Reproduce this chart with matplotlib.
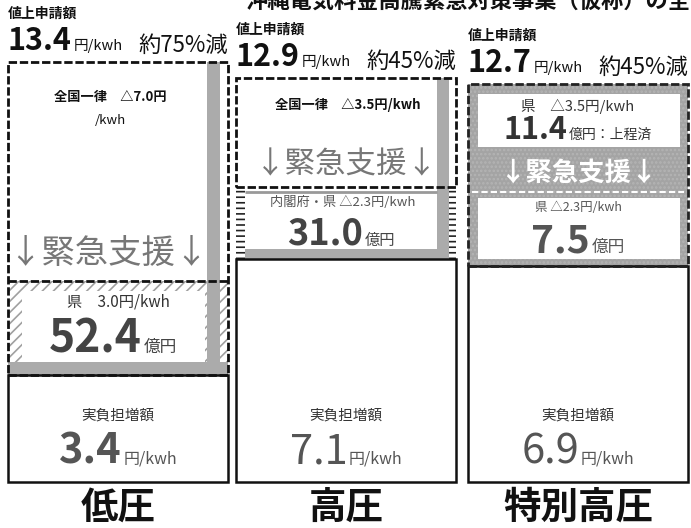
import matplotlib
matplotlib.use('Agg')
import matplotlib.pyplot as plt
from matplotlib.patches import Rectangle
from matplotlib.offsetbox import TextArea, HPacker, AnnotationBbox

# ---------------- data ----------------
title = '沖縄電気料金高騰緊急対策事業（仮称）の全体像'
categories = ['低圧', '高圧', '特別高圧']
requested = [13.4, 12.9, 12.7]          # 値上申請額 (円/kwh)
reduction_pct = [75, 45, 45]            # 約○%減
upper_cut = [7.0, 3.5, 3.5]             # upper support (円/kwh)
upper_label = ['全国一律　△7.0円', '全国一律　△3.5円/kwh', '県　△3.5円/kwh']
upper_budget = [None, None, 11.4]       # 億円
lower_cut = [3.0, 2.3, 2.3]             # lower support (円/kwh)
lower_label = ['県　3.0円/kwh', '内閣府・県 △2.3円/kwh', '県 △2.3円/kwh']
lower_budget = [52.4, 31.0, 7.5]        # 億円
actual = [3.4, 7.1, 6.9]                # 実負担増額 (円/kwh)

# ---------------- style ----------------
plt.rcParams['font.family'] = ['Noto Sans CJK JP', 'DejaVu Sans']
plt.rcParams['hatch.linewidth'] = 1.2

W_PX, H_PX = 691, 528
BASE = 482.0
S = (BASE - 62.0) / requested[0]
PX = 1.0 / S

fig = plt.figure(figsize=(W_PX / 100, H_PX / 100), dpi=100)
ax = fig.add_axes([0, 0, 1, 1])
ax.set_xlim(0, W_PX)
ax.set_ylim(-(H_PX - BASE) * PX, BASE * PX)
ax.axis('off')

xs = [118, 346, 578]
W = 220
GRAY = '#ababab'
DASH = (0, (3, 1))


def pix(p):
    return (BASE - p) * PX


def combo(x, y, parts, align=(0.5, 0.5), sep=1):
    children = [TextArea(s, textprops=dict(fontsize=fs, fontweight=fw, color=c))
                for s, fs, fw, c in parts]
    box = HPacker(children=children, align='baseline', pad=0, sep=sep)
    ab = AnnotationBbox(box, (x, y), xycoords='data', box_alignment=align,
                        frameon=False, pad=0, zorder=5)
    ax.add_artist(ab)


for i, cat in enumerate(categories):
    x = xs[i]
    left, right = x - W / 2, x + W / 2
    a, lo, up = actual[i], lower_cut[i], upper_cut[i]
    top = requested[i]

    # header
    ax.text(left, top + 48 * PX, '値上申請額', fontsize=10, fontweight='bold',
            ha='left', va='center', color='#111')
    combo(left, top + 5 * PX, [(f'{requested[i]:.1f}', 22, 'bold', '#111'),
                               ('円/kwh', 10.5, 'normal', '#111')], align=(0, 0))
    ax.text(right, top + 10 * PX, f'約{reduction_pct[i]}%減', fontsize=16,
            ha='right', va='baseline', color='#111')

    # actual burden box
    ax.bar(x, a, bottom=0, width=W, color='white', edgecolor='#111',
           linewidth=1.8, zorder=2)
    ax.text(x, pix(416), '実負担増額', fontsize=10.5, ha='center', va='center',
            color='#333')
    combo(x, pix(452), [(f'{actual[i]:.1f}', 30, 'bold' if i == 0 else 'normal', '#555'),
                        ('円/kwh', 11.5, 'normal', '#555')])
    ax.text(x, pix(507), cat, fontsize=27, fontweight='bold', ha='center',
            va='center', color='#111')

    if i == 0:
        ax.bar(x, lo, bottom=a, width=W, facecolor='white', edgecolor='#a0a0a0',
               hatch='///', linewidth=0, zorder=1)
        ax.bar(x, 13 * PX, bottom=a, width=W, color=GRAY, linewidth=0, zorder=1.5)
        ax.bar(x, up, bottom=a + lo, width=W, color='white', linewidth=0, zorder=1)
        ax.bar(right - 14.5, lo + up, bottom=a, width=13, color=GRAY,
               linewidth=0, zorder=1.5)
        ax.add_patch(Rectangle((left + 14, a + 13 * PX), 183, lo - 23 * PX,
                               facecolor='white', edgecolor='none', zorder=1.6))
        ax.bar(x, lo + up, bottom=a, width=W, fill=False, edgecolor='#111',
               linewidth=2, linestyle=DASH, zorder=3)
        ax.hlines(a + lo, left, right, colors='#111', linewidth=2,
                  linestyles=[DASH], zorder=3)
        ax.text(x - 8, a + lo + up - 35 * PX, upper_label[i], fontsize=9.5,
                fontweight='bold', ha='center', va='center', color='#111')
        ax.text(x - 8, a + lo + up - 58 * PX, '/kwh', fontsize=9.5,
                ha='center', va='center', color='#111')
        ax.text(x - 10, a + lo + 28 * PX, '↓緊急支援↓', fontsize=24,
                ha='center', va='center', color='#777')
        ax.text(x, a + lo - 21 * PX, lower_label[i], fontsize=11,
                ha='center', va='center', color='#333')
        combo(x - 5, a + lo - 58 * PX, [(f'{lower_budget[i]:.1f}', 32, 'bold', '#444'),
                                        ('億円', 12, 'normal', '#444')])
    elif i == 1:
        ax.bar(x, lo, bottom=a, width=W, color=GRAY, linewidth=0, zorder=1)
        ax.bar(x, up, bottom=a + lo, width=W, color='white', linewidth=0, zorder=1)
        ax.bar(right - 13, lo + up, bottom=a, width=12, color=GRAY,
               linewidth=0, zorder=1.5)
        ax.add_patch(Rectangle((left + 9, a + 10 * PX), right - 19 - (left + 9),
                               lo - 10 * PX, facecolor='white', edgecolor='none',
                               zorder=1.6))
        ax.hlines(a + lo - 5 * PX, left + 9, right - 19, colors='#999',
                  linewidth=2, zorder=1.8)
        ax.bar(left + 4.5, lo, bottom=a, width=9, facecolor='white',
               edgecolor='#222', hatch='---', linewidth=0, zorder=1.7)
        ax.bar(right - 3.5, lo, bottom=a, width=7, facecolor='white',
               edgecolor='#222', hatch='---', linewidth=0, zorder=1.7)
        ax.bar(x, up, bottom=a + lo, width=W, fill=False, edgecolor='#111',
               linewidth=2, linestyle=DASH, zorder=3)
        ax.text(x + 2, a + lo + up - 27 * PX, upper_label[i], fontsize=9.5,
                fontweight='bold', ha='center', va='center', color='#111')
        ax.text(x, a + lo + 22 * PX, '↓緊急支援↓', fontsize=22,
                ha='center', va='center', color='#777')
        ax.text(x - 3, a + lo - 15 * PX, lower_label[i], fontsize=9.5,
                ha='center', va='center', color='#555')
        combo(x - 5, a + lo - 47 * PX, [(f'{lower_budget[i]:.1f}', 26, 'bold', '#444'),
                                        ('億円', 11, 'normal', '#444')])
    else:
        ax.bar(x, lo + up, bottom=a, width=W, facecolor='#a4a4a4',
               edgecolor='#b4b4b4', hatch='....', linewidth=0, zorder=1)
        ax.bar(x, lo + up, bottom=a, width=W, fill=False, edgecolor='#222',
               linewidth=2, linestyle=DASH, zorder=3)
        ax.add_patch(Rectangle((left + 10, a + lo + up - 63 * PX), W - 18, 53 * PX,
                               facecolor='white', edgecolor='none', zorder=1.6))
        ax.add_patch(Rectangle((left + 10, a + 7 * PX), W - 18, lo - 11 * PX,
                               facecolor='white', edgecolor='none', zorder=1.6))
        ax.hlines(a + lo + 2 * PX, left + 4, right - 4, colors='white',
                  linewidth=1.5, linestyles=[(0, (3, 1.5))], zorder=2)
        ax.text(x, a + lo + up - 22 * PX, upper_label[i], fontsize=10.5,
                ha='center', va='center', color='#333')
        combo(x, a + lo + up - 46 * PX,
              [(f'{upper_budget[i]:.1f}', 22, 'bold', '#333'),
               ('億円：上程済', 10, 'normal', '#333')])
        ax.text(x, a + lo + 20 * PX, '↓緊急支援↓', fontsize=19, fontweight='bold',
                ha='center', va='center', color='white', zorder=4)
        ax.text(x, a + lo - 14 * PX, lower_label[i], fontsize=9,
                ha='center', va='center', color='#555')
        combo(x, a + lo - 47 * PX, [(f'{lower_budget[i]:.1f}', 28, 'bold', '#555'),
                                    ('億円', 12, 'normal', '#555')])

ax.text(245, pix(1), title, fontsize=16, fontweight='bold', ha='left',
        va='center', color='#111')

fig.savefig('out.png', dpi=100)
